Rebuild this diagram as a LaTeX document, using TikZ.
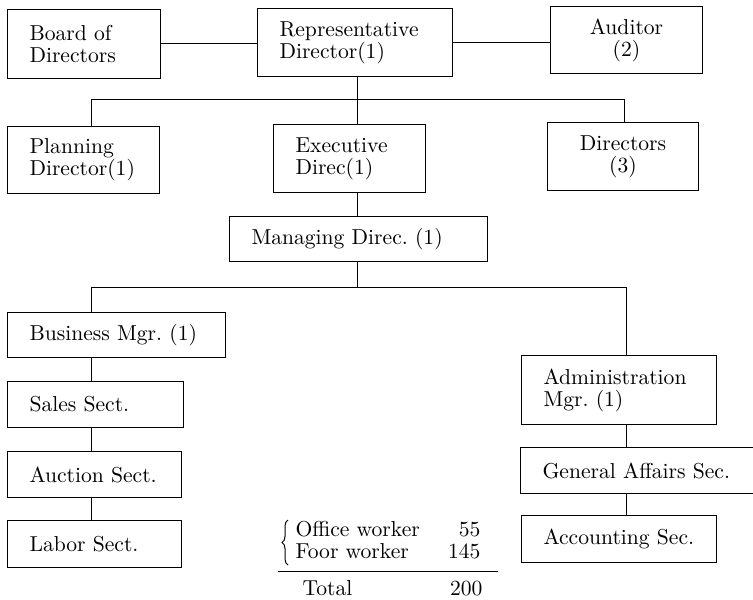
\documentclass[tikz,border=0pt]{standalone}
\usetikzlibrary{decorations.pathreplacing}
\newcommand\chartfont{\fontsize{10.8}{11}\selectfont\frenchspacing}

\begin{document}
\begin{tikzpicture}[x=0.5pt, y=-0.5pt,
                    line width=0.5pt,
                    box node/.style={draw, anchor=north west, inner xsep=11pt, inner ysep=0pt,
                                     align=left, font=\chartfont},
                    mid node/.style={box node, align=center},
                    tab node/.style={inner sep=0pt, font=\chartfont}]
  \useasboundingbox (0,0) rectangle (753,599);

  % top level
  \node[box node, text width=54.5pt, minimum height=34.5pt] (board) at (7,9) {Board of\\Directors};
  \node[box node, text width=75.5pt, minimum height=34pt] (rep) at (257,8) {Representative\\Director(1)};
  \node[mid node, text width=54pt, minimum height=33.5pt] (aud) at (550,6) {Auditor\\(2)};

  \node[box node, text width=54pt, minimum height=33.5pt] (plan) at (7,126) {Planning\\Director(1)};
  \node[box node, text width=54pt, minimum height=34pt] (exec) at (273,124) {Executive\\Direc(1)};
  \node[mid node, text width=53.5pt, minimum height=34pt] (dirs) at (547,122) {Directors\\(3)};

  \node[box node, text width=107pt, minimum height=22.5pt] (mgd) at (229,216) {Managing Direc. (1)};

  % business side
  \node[box node, text width=87pt, minimum height=22.5pt] (bus) at (7,312) {Business Mgr. (1)};
  \node[box node, text width=66pt, minimum height=23pt] (sales) at (7,381) {Sales Sect.};
  \node[box node, text width=65pt, minimum height=23pt] (auct) at (7,451) {Auction Sect.};
  \node[box node, text width=65pt, minimum height=23.5pt] (labor) at (7,520) {Labor Sect.};

  % administration side
  \node[box node, text width=75.5pt, minimum height=34.5pt] (adm) at (521,355) {Administration\\Mgr. (1)};
  \node[box node, text width=94.5pt, minimum height=23pt] (gen) at (520,447) {General Affairs Sec.};
  \node[box node, text width=75.5pt, minimum height=23.5pt] (acc) at (521,515) {Accounting Sec.};

  % junctions
  \coordinate (topL) at (91,99);
  \coordinate (topM) at (357,99);
  \coordinate (topR) at (624,99);
  \coordinate (lowL) at (91,287);
  \coordinate (lowM) at (357,287);
  \coordinate (lowR) at (626,287);

  \draw (board.east) -- (board.east -| rep.west);
  \draw (rep.east) -- (rep.east -| aud.west);
  \draw (rep.south -| topM) -- (topM);
  \draw (topL) -- (topR);
  \draw (topL) -- (topL |- plan.north);
  \draw (topM) -- (topM |- exec.north);
  \draw (topR) -- (topR |- dirs.north);
  \draw (exec.south -| topM) -- (topM |- mgd.north);
  \draw (mgd.south -| lowM) -- (lowM);
  \draw (lowL) -- (lowR);
  \draw (lowL) -- (lowL |- bus.north);
  \draw (lowR) -- (lowR |- adm.north);
  \foreach \a/\b in {bus/sales, sales/auct, auct/labor}
    \draw (\a.south -| lowL) -- (lowL |- \b.north);
  \foreach \a/\b in {adm/gen, gen/acc}
    \draw (\a.south -| lowR) -- (lowR |- \b.north);

  % staff numbers
  \draw[decorate, decoration={brace, amplitude=3pt}] (288,565) -- (288,520);
  \node[tab node, anchor=base west] (office) at (295,536) {Office worker};
  \node[tab node, anchor=base east] (officeN) at (481,536) {55};
  \node[tab node, anchor=base west] (floor) at (295,558) {Foor worker};
  \node[tab node, anchor=base east] (floorN) at (481,558) {145};
  \coordinate (ruleL) at (278,571);
  \coordinate (ruleR) at (498,571);
  \draw (ruleL) -- (ruleR);
  \node[tab node, anchor=base west] (total) at (302,595) {Total};
  \node[tab node, anchor=base east] (totalN) at (483,595) {200};
\end{tikzpicture}
\end{document}
